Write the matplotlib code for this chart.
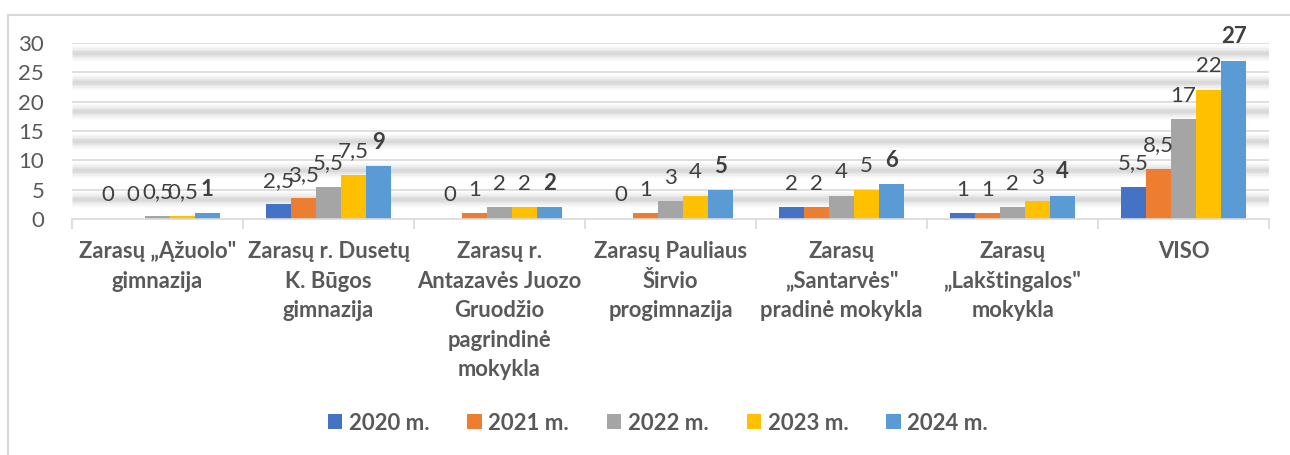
import numpy as np
import matplotlib.pyplot as plt
from matplotlib.lines import Line2D

plt.rcParams["font.family"] = ["Lato", "DejaVu Sans"]

categories = [
    "Zarasų „Ąžuolo\"\ngimnazija",
    "Zarasų r. Dusetų\nK. Būgos\ngimnazija",
    "Zarasų r.\nAntazavės Juozo\nGruodžio\npagrindinė\nmokykla",
    "Zarasų Pauliaus\nŠirvio\nprogimnazija",
    "Zarasų\n„Santarvės\"\npradinė mokykla",
    "Zarasų\n„Lakštingalos\"\nmokykla",
    "VISO",
]
years = ["2020 m.", "2021 m.", "2022 m.", "2023 m.", "2024 m."]
v2020 = [0, 2.5, 0, 0, 2, 1, 5.5]
v2021 = [0, 3.5, 1, 1, 2, 1, 8.5]
v2022 = [0.5, 5.5, 2, 3, 4, 2, 17]
v2023 = [0.5, 7.5, 2, 4, 5, 3, 22]
v2024 = [1, 9, 2, 5, 6, 4, 27]
series = [v2020, v2021, v2022, v2023, v2024]
colors = ["#4472C4", "#ED7D31", "#A5A5A5", "#FFC000", "#5B9BD5"]

fig = plt.figure(figsize=(12.9, 4.55), dpi=100)
ax = fig.add_axes([0.0558, 0.5187, 0.928, 0.3868])

x = np.arange(len(categories))
w = 0.146

# gridlines with soft shadow bands underneath
for g in range(5, 31, 5):
    ax.axhline(g, color="#d9d9d9", lw=1.2, zorder=1)
    for lw, a in [(11, 0.05), (8, 0.07), (5, 0.09), (2.5, 0.1)]:
        ax.axhline(g - 1.65, color="#808080", lw=lw, alpha=a, zorder=0.5,
                   solid_capstyle="butt")

for i, (vals, c, yr) in enumerate(zip(series, colors, years)):
    pos = x + (i - 2) * w
    ax.bar(pos, vals, width=w, color=c, label=yr, zorder=2)
    for p, v in zip(pos, vals):
        txt = f"{v:g}".replace(".", ",")
        ax.annotate(txt, (p, v), xytext=(0, 17), textcoords="offset points",
                    ha="center", va="center", fontsize=16, color="#404040",
                    fontweight="bold" if i == 4 else "normal", zorder=3)

ax.set_xlim(-0.5, len(categories) - 0.5)
ax.set_ylim(0, 30)
ax.set_yticks(range(0, 31, 5))
ax.set_xticks(x)
ax.set_xticklabels(categories, fontsize=15.8, fontweight="bold", color="#595959",
                   linespacing=1.5)
ax.set_xticks(np.arange(-0.5, len(categories), 1), minor=True)
ax.tick_params(axis="x", which="major", length=0, pad=16)
ax.tick_params(axis="x", which="minor", length=7, color="#d9d9d9", width=1.2)
ax.tick_params(axis="y", length=0, labelsize=16, labelcolor="#595959", pad=20)
for s in ["left", "right", "top"]:
    ax.spines[s].set_visible(False)
ax.spines["bottom"].set_color("#d9d9d9")
ax.spines["bottom"].set_linewidth(1.2)

fig.legend(loc="center", bbox_to_anchor=(0.51, 0.07), ncol=5, frameon=False,
           prop={"size": 16, "weight": "bold"}, labelcolor="#595959",
           handlelength=0.65, handleheight=0.65, handletextpad=0.3,
           columnspacing=1.7)

# outer chart frame
fig.add_artist(Line2D([7.5 / 1290, 7.5 / 1290], [0, 1 - 14.5 / 455],
                      color="#d9d9d9", lw=1.5))
fig.add_artist(Line2D([7.5 / 1290, 1], [1 - 14.5 / 455, 1 - 14.5 / 455],
                      color="#d9d9d9", lw=1.5))

fig.savefig("out.png", dpi=100)
